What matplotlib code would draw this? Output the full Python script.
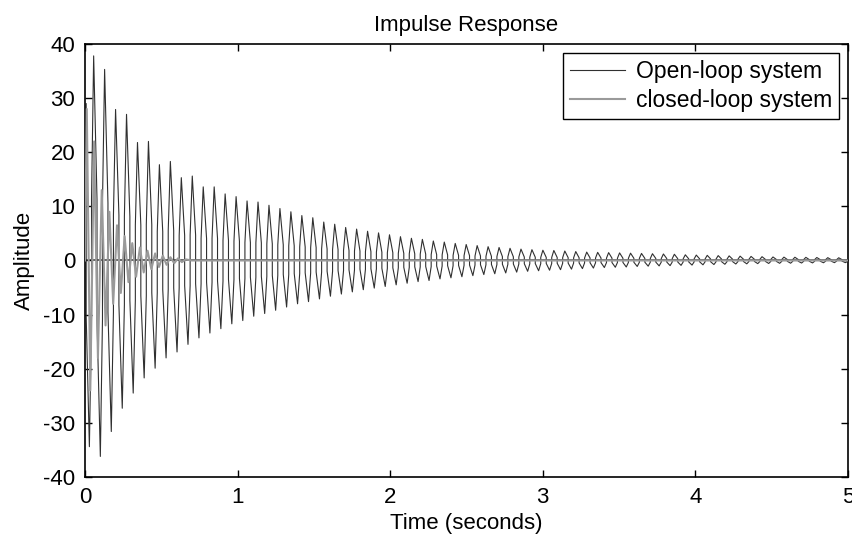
import matplotlib.pyplot as plt
import numpy as np

plt.rcParams["font.family"] = ["Liberation Sans", "DejaVu Sans"]
plt.rcParams["axes.unicode_minus"] = False

# open-loop response: one extreme per half cycle
open_period = 0.0718
open_first_max = 0.057
open_first_min = 0.029
open_start_t = [0.0, 0.008]
open_start_v = [0.0, 29.0]
open_max = [37.8, 35.3, 27.9, 27.0, 21.8, 22.0, 17.7, 18.3, 15.3, 15.6,
            13.6, 13.6, 12.3, 11.8, 11.0, 10.8, 10.2, 9.6, 9.0, 8.3,
            7.9, 7.1, 6.7, 6.1, 5.8, 5.4, 5.1, 4.75, 4.4, 4.1,
            3.9, 3.6, 3.4, 3.15, 2.95, 2.75, 2.55, 2.4, 2.25, 2.1,
            2.0, 1.9, 1.85, 1.75, 1.65, 1.55, 1.5, 1.45, 1.4, 1.35,
            1.3, 1.25, 1.2, 1.15, 1.05, 1.0, 0.95, 0.9, 0.85, 0.8,
            0.75, 0.7, 0.65, 0.62, 0.6, 0.58, 0.55, 0.52, 0.5]
open_min = [-34.4, -36.2, -31.6, -27.3, -24.5, -21.7, -19.9, -18.0, -16.9, -15.5,
            -14.3, -13.4, -12.6, -11.7, -11.1, -10.3, -9.8, -9.2, -8.6, -8.0,
            -7.6, -7.1, -6.6, -6.2, -5.8, -5.4, -5.1, -4.8, -4.5, -4.2,
            -3.9, -3.7, -3.4, -3.2, -3.0, -2.8, -2.6, -2.45, -2.3, -2.15,
            -2.0, -1.9, -1.8, -1.7, -1.6, -1.5, -1.4, -1.3, -1.25, -1.2,
            -1.1, -1.05, -1.0, -0.95, -0.9, -0.85, -0.8, -0.75, -0.7, -0.65,
            -0.62, -0.58, -0.55, -0.52, -0.5, -0.47, -0.45, -0.42, -0.4, -0.4]
# the spikes sit on a "shoulder" at about 30% of the peak height
shoulder_ratio = 0.3

# closed-loop response: decays within ~0.7 s
closed_t = [0.0, 0.012, 0.035, 0.06, 0.085, 0.11, 0.135, 0.16, 0.185, 0.21,
            0.235, 0.26, 0.285, 0.31, 0.335, 0.36, 0.385, 0.41, 0.435, 0.46,
            0.485, 0.51, 0.535, 0.56, 0.585, 0.61, 0.635, 0.66, 0.7, 5.0]
closed_v = [0.0, 28.0, -24.0, 22.0, -18.0, 13.0, -12.0, 9.0, -8.0, 6.5,
            -6.0, 4.5, -4.0, 3.2, -3.0, 2.4, -2.2, 1.8, -1.6, 1.3,
            -1.2, 0.9, -0.8, 0.6, -0.5, 0.4, -0.3, 0.2, 0.0, 0.0]

t_max = open_first_max + open_period * np.arange(len(open_max))
t_min = open_first_min + open_period * np.arange(len(open_min))
t_ext = np.concatenate([t_max, t_min])
v_ext = np.concatenate([open_max, open_min])
order = np.argsort(t_ext)
t_ext, v_ext = t_ext[order], v_ext[order]

# build the bottle-shaped trace: jump between shoulders at each crossing
cross = np.concatenate([[open_start_t[1]], (t_ext[:-1] + t_ext[1:]) / 2, [t_ext[-1] + open_period / 4]])
t_open, v_open = list(open_start_t), list(open_start_v)
for i, (tp, vp) in enumerate(zip(t_ext, v_ext)):
    t_open += [cross[i], tp, cross[i + 1]]
    v_open += [shoulder_ratio * vp, vp, shoulder_ratio * vp]

fig = plt.figure(figsize=(8.53, 5.45), dpi=100)
ax = fig.add_axes([0.0996, 0.1248, 0.8945, 0.7945])

ax.axhline(0, color="#5a5a5a", linewidth=1.3, zorder=1)
ax.plot(t_open, v_open, color="#303030", linewidth=0.8, label="Open-loop system", zorder=2)
ax.plot(closed_t, closed_v, color="#9a9a9a", linewidth=1.5, label="closed-loop system", zorder=3)

ax.set_xlim(0, 5)
ax.set_ylim(-40, 40)
ax.set_xticks(range(0, 6))
ax.set_yticks(range(-40, 41, 10))
ax.tick_params(direction="in", top=True, right=True, length=5, width=1,
               labelsize=16, pad=7)
for s in ax.spines.values():
    s.set_linewidth(1.2)

ax.set_title("Impulse Response", fontsize=16, pad=9)
ax.set_xlabel("Time (seconds)", fontsize=16, labelpad=4)
ax.set_ylabel("Amplitude", fontsize=16, labelpad=6)

leg = ax.legend(loc="upper right", fontsize=16.5, frameon=True, fancybox=False,
                edgecolor="black", framealpha=1, handlelength=2.4,
                borderaxespad=0.4, borderpad=0.3, labelspacing=0.25, handletextpad=0.45)
leg.get_frame().set_linewidth(1.0)

plt.savefig("out.png", dpi=100)
